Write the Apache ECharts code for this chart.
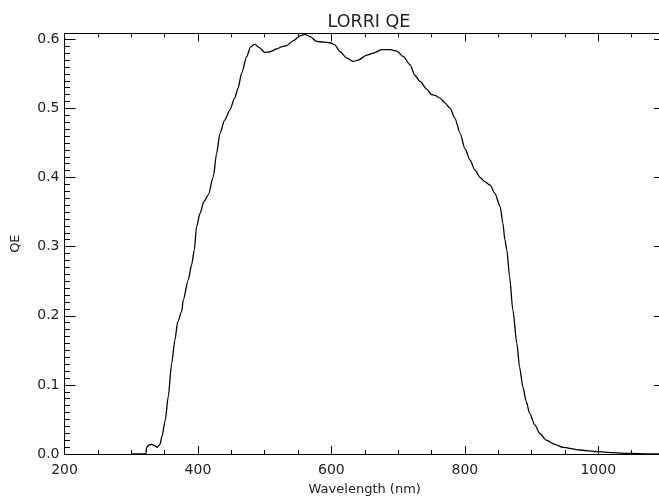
<!DOCTYPE html>
<html>
<head>
<meta charset="utf-8">
<script src="https://cdn.jsdelivr.net/npm/echarts@6/dist/echarts.min.js"></script>
<style>
html,body{margin:0;padding:0;background:#fff;}
#chart{width:659px;height:497px;}
</style>
</head>
<body>
<div id="chart"></div>
<script>
const wavelength = [300,322,323,327,331,335,339,343,346,351,355.5,360.6,365.5,369.6,375.6,378,385.5,390.6,394.5,398,403,409,415.5,423,428,433,440,448,455,460,465.5,473,479,485,492,500,508,518,525,533,543,553,560,568,578,588,598,605,613,623,633,640,653,663,675,688,698,708,718,725,733,743,750,755,763,770,778,785,793,800,808,815,823,830,838,845,853,857,860,863,867,872,878,882,887,892,897,905,912,922,935,947,972,997,1022,1047,1075,1100];
const qe = [0,0,0.010,0.013,0.014,0.012,0.0097,0.014,0.025,0.049,0.083,0.131,0.165,0.191,0.206,0.223,0.252,0.274,0.295,0.329,0.348,0.365,0.375,0.401,0.435,0.464,0.483,0.498,0.515,0.529,0.551,0.575,0.589,0.593,0.588,0.581,0.582,0.586,0.589,0.591,0.598,0.605,0.607,0.604,0.597,0.596,0.595,0.592,0.582,0.573,0.568,0.570,0.577,0.580,0.585,0.585,0.583,0.575,0.563,0.548,0.539,0.528,0.520,0.519,0.515,0.508,0.500,0.486,0.464,0.442,0.425,0.411,0.400,0.394,0.389,0.377,0.358,0.334,0.310,0.295,0.257,0.208,0.160,0.126,0.097,0.076,0.059,0.042,0.030,0.020,0.014,0.0097,0.0058,0.0034,0.002,0.0008,0.0002,0];
const xMajorTicks = [200,400,600,800,1000];
const yMajorTicks = [0.0,0.1,0.2,0.3,0.4,0.5,0.6];
const titleText = 'LORRI QE';
const xName = 'Wavelength (nm)';
const yName = 'QE';

const X_MIN = 200, X_MAX = 1100, Y_MIN = 0, Y_MAX = 0.6087;
const FONT = 'DejaVu Sans';
const lineCol = '#000';

function xAxisDef(pos, interval, len, main) {
  const labels = main && pos === 'bottom';
  return {
    type: 'value', position: pos, min: X_MIN, max: X_MAX, interval: interval,
    axisLine: {show: main, onZero: false, lineStyle: {color: lineCol, width: 1}},
    axisTick: {show: true, inside: true, length: len, lineStyle: {color: lineCol, width: 1}},
    axisLabel: labels ? {
      show: true, margin: 9, color: '#222', fontFamily: FONT, fontSize: 14,
      formatter: v => xMajorTicks.indexOf(v) >= 0 ? String(v) : ''
    } : {show: false},
    splitLine: {show: false},
    name: labels ? xName : '',
    nameLocation: 'middle', nameGap: 29,
    nameTextStyle: {color: '#222', fontFamily: FONT, fontSize: 13}
  };
}
function yAxisDef(pos, interval, len, main) {
  const labels = main && pos === 'left';
  return {
    type: 'value', position: pos, min: Y_MIN, max: Y_MAX, interval: interval,
    axisLine: {show: main, onZero: false, lineStyle: {color: lineCol, width: 1}},
    axisTick: {show: true, inside: true, length: len, lineStyle: {color: lineCol, width: 1}},
    axisLabel: labels ? {
      show: true, margin: 5, color: '#222', fontFamily: FONT, fontSize: 14,
      formatter: v => {
        const r = Math.round(v * 10) / 10;
        return (Math.abs(v - r) < 1e-6 && yMajorTicks.indexOf(r) >= 0) ? r.toFixed(1) : '';
      }
    } : {show: false},
    splitLine: {show: false},
    name: labels ? yName : '',
    nameLocation: 'middle', nameGap: 42, nameRotate: 90,
    nameTextStyle: {color: '#222', fontFamily: FONT, fontSize: 13}
  };
}

const chart = echarts.init(document.getElementById('chart'), null, {renderer: 'canvas'});
chart.setOption({
  backgroundColor: '#fff',
  animation: false,
  title: {
    text: titleText, left: 364, top: 8, textAlign: 'center',
    textStyle: {color: '#222', fontFamily: FONT, fontSize: 17.5, fontWeight: 'normal'}
  },
  grid: {left: 64.5, width: 600.5, top: 33.3, bottom: 43, containLabel: false, outerBoundsMode: 'none'},
  xAxis: [
    xAxisDef('bottom', 200, 8, true),
    xAxisDef('bottom', 50, 4, false),
    xAxisDef('top', 200, 8, true),
    xAxisDef('top', 50, 4, false)
  ],
  yAxis: [
    yAxisDef('left', 0.1, 11, true),
    yAxisDef('left', 0.01, 5.5, false),
    yAxisDef('right', 0.1, 11, true),
    yAxisDef('right', 0.01, 5.5, false)
  ],
  series: [{
    type: 'line', xAxisIndex: 0, yAxisIndex: 0,
    data: wavelength.map((w, i) => [w, qe[i]]),
    showSymbol: false, smooth: 0.25, smoothMonotone: 'x',
    lineStyle: {color: '#000', width: 1.3},
    clip: true
  }]
});
</script>
</body>
</html>
